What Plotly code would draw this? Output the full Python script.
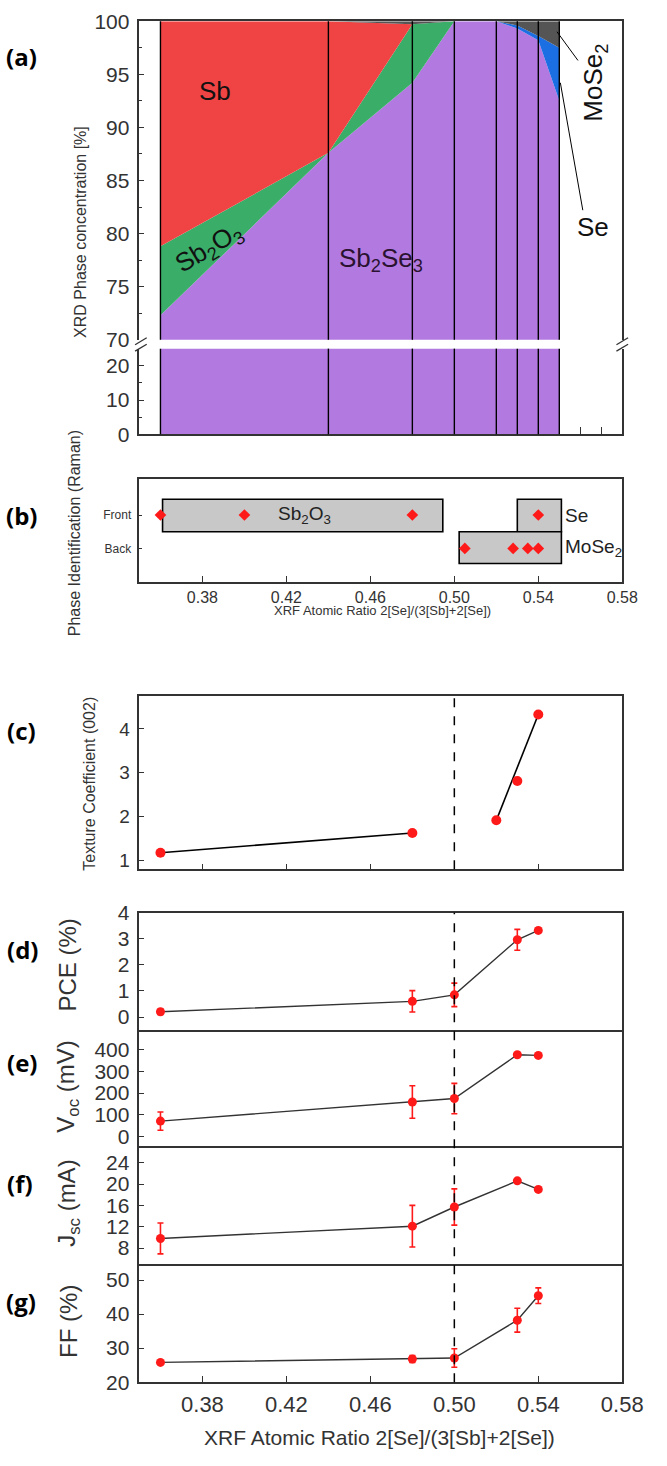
import plotly.graph_objects as go

W, H = 667, 1466

# ---------------- data ----------------
# (a) XRD phase concentration (stacked, %)
xrd_x = [0.36, 0.44, 0.48, 0.50, 0.52, 0.53, 0.54, 0.55]
xrd_sb2se3 = [72.3, 87.6, 94.2, 100, 100, 99.3, 98.2, 92.5]
xrd_sb2o3 = [6.5, 0, 5.5, 0, 0, 0, 0, 0]
xrd_sb = [21.2, 12.4, 0, 0, 0, 0, 0, 0]
xrd_se = [0, 0, 0, 0, 0, 0.3, 0.4, 5.0]
xrd_mose2 = [0, 0, 0.3, 0, 0, 0.4, 1.4, 2.5]

# (b) Raman phase identification
raman_rows = ["Front", "Back"]
raman_front_x = [0.36, 0.40, 0.48, 0.54]
raman_back_x = [0.505, 0.528, 0.535, 0.54]
raman_phase_names = ["Sb<sub>2</sub>O<sub>3</sub>", "Se", "MoSe<sub>2</sub>"]
raman_phase_x0 = [0.361, 0.530, 0.5023]
raman_phase_x1 = [0.4945, 0.551, 0.551]
raman_phase_y0 = [0.5, 0.5, -0.45]
raman_phase_y1 = [1.47, 1.47, 0.5]

# (c) texture coefficient (002)
tc_x = [0.36, 0.48, 0.52, 0.53, 0.54]
tc = [1.17, 1.62, 1.91, 2.81, 4.33]

# (d)-(g) device parameters
dev_x = [0.36, 0.48, 0.50, 0.53, 0.54]
pce = [0.2, 0.6, 0.85, 2.96, 3.32]
pce_err = [0.1, 0.41, 0.45, 0.4, 0.08]
voc = [71, 159, 175, 377, 374]
voc_err = [42, 75, 70, 6, 6]
jsc = [9.8, 12.1, 15.7, 20.6, 19.0]
jsc_err = [2.9, 3.9, 3.4, 0.3, 0.4]
ff = [25.8, 26.8, 27.1, 38.2, 45.4]
ff_err = [0.5, 1.0, 2.7, 3.5, 2.3]

x_ticks = [0.38, 0.42, 0.46, 0.50, 0.54, 0.58]
x_tick_text = ["0.38", "0.42", "0.46", "0.50", "0.54", "0.58"]
x_range = [0.35, 0.58]
x_title = "XRF Atomic Ratio 2[Se]/(3[Sb]+2[Se])"

# ---------------- styling ----------------
FONT = "Liberation Sans"
AX = "#333333"
RED = "#ff1a1a"
C_SB = "#f04444"
C_SB2O3 = "#3aae69"
C_SB2SE3 = "#b27ae0"
C_SE = "#1c6fe3"
C_MOSE2 = "#555555"


def py(p):
    return 1 - p / H


XDOM = [144 / W, 642.5 / W]

fig = go.Figure()

# ---------- (a) stacked areas, top and bottom segments ----------
layers = [
    (xrd_sb2se3, C_SB2SE3, "Sb2Se3"),
    (xrd_sb2o3, C_SB2O3, "Sb2O3"),
    (xrd_sb, C_SB, "Sb"),
    (xrd_se, C_SE, "Se"),
    (xrd_mose2, C_MOSE2, "MoSe2"),
]
for seg, (xa, ya) in enumerate([("x", "y"), ("x2", "y2")]):
    for vals, col, name in layers:
        fig.add_trace(go.Scatter(
            x=xrd_x, y=vals, mode="lines", line=dict(width=0, color=col),
            fillcolor=col, stackgroup="seg%d" % seg, xaxis=xa, yaxis=ya,
            showlegend=False, name=name, hoverinfo="skip"))

# ---------- (b) Raman ----------
fig.add_trace(go.Scatter(x=raman_front_x, y=[1] * len(raman_front_x), mode="markers",
                         marker=dict(symbol="diamond", size=9, color=RED),
                         xaxis="x3", yaxis="y3", showlegend=False))
fig.add_trace(go.Scatter(x=raman_back_x, y=[0] * len(raman_back_x), mode="markers",
                         marker=dict(symbol="diamond", size=9, color=RED),
                         xaxis="x3", yaxis="y3", showlegend=False))

# ---------- (c) texture coefficient ----------
fig.add_trace(go.Scatter(x=tc_x[0:2], y=tc[0:2], mode="lines",
                         line=dict(color="black", width=1.6),
                         xaxis="x4", yaxis="y4", showlegend=False))
fig.add_trace(go.Scatter(x=[tc_x[2], tc_x[4]], y=[tc[2], tc[4]], mode="lines",
                         line=dict(color="black", width=1.6),
                         xaxis="x4", yaxis="y4", showlegend=False))
fig.add_trace(go.Scatter(x=tc_x, y=tc, mode="markers",
                         marker=dict(symbol="circle", size=10, color=RED),
                         xaxis="x4", yaxis="y4", showlegend=False))

# ---------- (d)-(g) ----------
for i, (vals, errs) in enumerate([(pce, pce_err), (voc, voc_err), (jsc, jsc_err), (ff, ff_err)]):
    n = 5 + i
    fig.add_trace(go.Scatter(x=dev_x, y=vals, mode="lines",
                             line=dict(color="#333333", width=1.4),
                             xaxis="x%d" % n, yaxis="y%d" % n, showlegend=False))
    fig.add_trace(go.Scatter(x=dev_x, y=vals, mode="markers",
                             marker=dict(symbol="circle", size=9, color=RED),
                             error_y=dict(type="data", array=errs, color=RED, thickness=1.6, width=3),
                             xaxis="x%d" % n, yaxis="y%d" % n, showlegend=False))

# ---------------- axes ----------------
tickfont = dict(family=FONT, size=21, color=AX)


def xaxis(anchor, **kw):
    d = dict(domain=XDOM, range=x_range, anchor=anchor, showgrid=False, zeroline=False,
             showline=True, linecolor=AX, linewidth=1.6, mirror=True,
             ticks="inside", ticklen=6, tickwidth=1.4, tickcolor=AX,
             tickvals=x_ticks, ticktext=x_tick_text, showticklabels=False,
             tickfont=tickfont)
    d.update(kw)
    return d


def yaxis(anchor, top, bottom, rng, **kw):
    d = dict(domain=[py(bottom), py(top)], range=rng, anchor=anchor, showgrid=False,
             zeroline=False, showline=True, linecolor=AX, linewidth=1.6, mirror=True,
             ticks="inside", ticklen=5, tickwidth=1.4, tickcolor=AX, tickfont=tickfont,
             ticklabelstandoff=4)
    d.update(kw)
    return d


layout = dict(
    width=W, height=H, autosize=False, margin=dict(l=0, r=0, t=0, b=0),
    paper_bgcolor="white", plot_bgcolor="rgba(0,0,0,0)", showlegend=False,
    font=dict(family=FONT, color=AX),
    # (a) top segment
    xaxis=xaxis("y", side="top", mirror=False, ticks="", tickvals=[]),
    yaxis=yaxis("x", 9.3, 333, [70, 100], dtick=5,
                minor=dict(dtick=2.5, ticklen=3, ticks="inside", tickcolor=AX)),
    # (a) bottom segment
    xaxis2=xaxis("y2", mirror=False, tickvals=[0.56, 0.57], ticklen=7),
    yaxis2=yaxis("x2", 342, 429, [0, 25], tickvals=[0, 10, 20],
                 minor=dict(dtick=5, ticklen=3, ticks="inside", tickcolor=AX)),
    # (b)
    xaxis3=xaxis("y3", showticklabels=True, ticklabelstandoff=0,
                 tickfont=dict(family=FONT, size=16, color=AX)),
    yaxis3=yaxis("x3", 474, 579, [-1.0, 2.09], tickvals=[1, 0], ticktext=raman_rows,
                 tickfont=dict(family=FONT, size=12, color=AX), ticklen=3),
    # (c)
    xaxis4=xaxis("y4"),
    yaxis4=yaxis("x4", 695, 871, [0.79, 4.75], tickvals=[1, 2, 3, 4],
                 tickfont=dict(family=FONT, size=19, color=AX)),
    # (d)
    xaxis5=xaxis("y5", ticks=""),
    yaxis5=yaxis("x5", 915, 1034.3, [-0.5, 4], dtick=1),
    # (e)
    xaxis6=xaxis("y6", ticks="", mirror=False),
    yaxis6=yaxis("x6", 1034.3, 1152.3, [-45, 491], tickvals=[0, 100, 200, 300, 400]),
    # (f)
    xaxis7=xaxis("y7", ticks="", mirror=False),
    yaxis7=yaxis("x7", 1152.3, 1272, [5.0, 27.1], tickvals=[8, 12, 16, 20, 24]),
    # (g)
    xaxis8=xaxis("y8", showticklabels=True, ticklabelstandoff=2, mirror=False,
                 tickfont=dict(family=FONT, size=22, color=AX)),
    yaxis8=yaxis("x8", 1272, 1392, [20, 54.7], tickvals=[20, 30, 40, 50]),
)
fig.update_layout(**layout)

shapes = []
# (a) vertical sample lines
for xv in xrd_x:
    for xa, ya in [("x", "y"), ("x2", "y2")]:
        shapes.append(dict(type="line", xref=xa, yref=ya + " domain", x0=xv, x1=xv, y0=0, y1=1,
                           line=dict(color="black", width=1.4)))
# (a) leader lines for MoSe2 and Se labels
shapes.append(dict(type="line", xref="x", yref="y", x0=0.5489, y0=99.0, x1=0.5589, y1=96.3,
                   line=dict(color="black", width=1)))
shapes.append(dict(type="line", xref="x", yref="y", x0=0.5505, y0=94.2, x1=0.5612, y1=82.2,
                   line=dict(color="black", width=1)))
# axis break marks
for xb in [145.5, 642.5]:
    for yb in [334.5, 341]:
        shapes.append(dict(type="line", xref="paper", yref="paper",
                           x0=(xb - 6) / W, y0=py(yb + 3.5), x1=(xb + 6) / W, y1=py(yb - 3.5),
                           line=dict(color=AX, width=1.3)))
# (b) phase rectangles
for x0, x1, y0, y1 in zip(raman_phase_x0, raman_phase_x1, raman_phase_y0, raman_phase_y1):
    shapes.append(dict(type="rect", xref="x3", yref="y3", x0=x0, x1=x1, y0=y0, y1=y1,
                       fillcolor="#c8c8c8", line=dict(color="black", width=1.6), layer="below"))
# (c) dashed line at 0.50
shapes.append(dict(type="line", xref="x4", yref="y4 domain", x0=0.50, x1=0.50, y0=0, y1=1,
                   line=dict(color="black", width=1.5, dash="dash")))
# (d)-(g) dashed line at 0.50
shapes.append(dict(type="line", xref="x5", yref="paper", x0=0.50, x1=0.50, y0=py(1392), y1=py(915),
                   line=dict(color="black", width=1.5, dash="dash")))
fig.update_layout(shapes=shapes)

ann = []
big = dict(family=FONT, size=26, color="#111111")
ann.append(dict(xref="x", yref="y", x=0.386, y=93.4, text="Sb", showarrow=False, font=big))
ann.append(dict(xref="x", yref="y", x=0.383, y=78.6, text="Sb<sub>2</sub>O<sub>3</sub>", showarrow=False,
                font=big, textangle=-31))
ann.append(dict(xref="x", yref="y", x=0.465, y=77.6, text="Sb<sub>2</sub>Se<sub>3</sub>", showarrow=False,
                font=dict(family=FONT, size=26, color="#2a1230")))
ann.append(dict(xref="x", yref="y", x=0.567, y=94.2, text="MoSe<sub>2</sub>", showarrow=False,
                font=big, textangle=-90))
ann.append(dict(xref="x", yref="y", x=0.566, y=80.6, text="Se", showarrow=False, font=big))

# (b) labels
bfont = dict(family=FONT, size=19, color="#222222")
ann.append(dict(xref="x3", yref="y3", x=0.4286, y=1, text=raman_phase_names[0], showarrow=False, font=bfont))
ann.append(dict(xref="x3", yref="y3", x=0.552, y=1, text=raman_phase_names[1], showarrow=False,
                font=bfont, xanchor="left"))
ann.append(dict(xref="x3", yref="y3", x=0.552, y=0, text=raman_phase_names[2], showarrow=False,
                font=bfont, xanchor="left"))


def paper_text(x, y, text, size, angle=0, family=FONT, color=AX):
    return dict(xref="paper", yref="paper", x=x / W, y=py(y), text=text, showarrow=False,
                textangle=angle, font=dict(family=family, size=size, color=color),
                xanchor="center", yanchor="middle")


# axis titles
ann.append(paper_text(83, 223, "XRD Phase concentration [%]", 16, -90))
ann.append(paper_text(77, 530, "Phase Identification (Raman)", 16, -90))
ann.append(paper_text(93, 784, "Texture Coefficient (002)", 16, -90))
ann.append(paper_text(70, 968, "PCE (%)", 24, -90))
ann.append(paper_text(70, 1092, "V<sub>oc</sub> (mV)", 24, -90))
ann.append(paper_text(70, 1210, "J<sub>sc</sub> (mA)", 24, -90))
ann.append(paper_text(70, 1330, "FF (%)", 24, -90))

ann.append(paper_text(395, 608, x_title, 13))
ann.append(paper_text(392, 1448, x_title, 21))

# panel letters
for lab, xp, yp in [("(a)", 22, 45), ("(b)", 22, 512), ("(c)", 22, 730), ("(d)", 23, 952),
                    ("(e)", 23, 1067), ("(f)", 21, 1190), ("(g)", 22, 1310)]:
    ann.append(paper_text(xp, yp, "<b>%s</b>" % lab, 24, family="Open Sans", color="black"))

fig.update_layout(annotations=ann)
fig.write_html("out.html", config={"displayModeBar": False},
               post_script="document.body.style.margin='0';")
